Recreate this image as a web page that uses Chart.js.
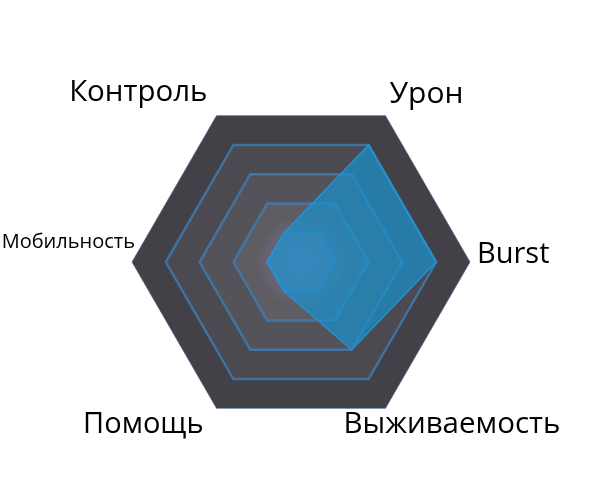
<!DOCTYPE html>
<html>
<head>
<meta charset="utf-8">
<script src="https://cdn.jsdelivr.net/npm/chart.js@4.4.1/dist/chart.umd.min.js"></script>
<style>
  html, body { margin: 0; padding: 0; background: #ffffff; }
  #wrap { width: 595px; height: 480px; }
</style>
</head>
<body>
<div id="wrap"><canvas id="radarChart" width="595" height="480"></canvas></div>
<script>
// === Data ===
var categories = ['Урон', 'Burst', 'Выживаемость', 'Помощь', 'Мобильность', 'Контроль'];
var heroValues = [4, 4, 3, 1, 1, 1];
var scaleSteps = [1, 2, 3, 4, 5];

// band fills from the outer ring inwards
var bandColors = ['#414147', '#4a4a50', '#545359', '#5e5d63', '#68666e'];

// label look: size, alignment and nudge from the axis tip
var labelStyle = [
    { size: 30, align: 'left',  dx: 4,   dy: -13 },
    { size: 29, align: 'left',  dx: 7,   dy: 1 },
    { size: 29.5, align: 'left',  dx: -42, dy: 25 },
    { size: 29, align: 'right', dx: -13, dy: 25 },
    { size: 20, align: 'right', dx: 3,   dy: -14 },
    { size: 29.5, align: 'right', dx: -9,  dy: -15 }
];

function hexPath(ctx, scale, value) {
    var r = scale.getDistanceFromCenterForValue(value);
    ctx.beginPath();
    for (var i = 0; i < categories.length; i++) {
        var p = scale.getPointPosition(i, r);
        if (i === 0) ctx.moveTo(p.x, p.y);
        else ctx.lineTo(p.x, p.y);
    }
    ctx.closePath();
}

// ring backgrounds, drawn before the grid
var bandsPlugin = {
    id: 'bands',
    beforeDraw: function(chart) {
        var scale = chart.scales.r;
        var ctx = chart.ctx;
        ctx.save();
        for (var k = scaleSteps.length - 1; k >= 0; k--) {
            hexPath(ctx, scale, scaleSteps[k]);
            ctx.fillStyle = bandColors[scaleSteps.length - 1 - k];
            ctx.fill();
        }
        // purple glow in the middle
        var cx = scale.xCenter, cy = scale.yCenter;
        var rr = scale.getDistanceFromCenterForValue(1.4);
        var g = ctx.createRadialGradient(cx, cy, 0, cx, cy, rr);
        g.addColorStop(0, 'rgba(130, 115, 155, 0.85)');
        g.addColorStop(1, 'rgba(130, 115, 155, 0)');
        hexPath(ctx, scale, 1.4);
        ctx.fillStyle = g;
        ctx.fill();
        ctx.restore();
    }
};

// axis names
var labelsPlugin = {
    id: 'axisNames',
    afterDraw: function(chart) {
        var scale = chart.scales.r;
        var ctx = chart.ctx;
        ctx.save();
        ctx.fillStyle = '#000000';
        ctx.textBaseline = 'alphabetic';
        categories.forEach(function(name, i) {
            var st = labelStyle[i];
            var p = scale.getPointPosition(i, scale.drawingArea);
            ctx.font = st.size + 'px "Open Sans", "Noto Sans", sans-serif';
            ctx.textAlign = st.align;
            ctx.fillText(name, p.x + st.dx, p.y + st.dy);
        });
        ctx.restore();
    }
};

var ctxRadar = document.getElementById('radarChart').getContext('2d');
new Chart(ctxRadar, {
    type: 'radar',
    data: {
        labels: categories,
        datasets: [{
            data: heroValues,
            backgroundColor: 'rgba(20, 148, 212, 0.66)',
            borderColor: 'rgba(35, 150, 215, 0.85)',
            borderWidth: 1.5,
            pointRadius: 0,
            fill: true
        }]
    },
    options: {
        responsive: false,
        animation: false,
        layout: { padding: { left: 132, right: 125, top: 93, bottom: 49 } },
        plugins: {
            legend: { display: false },
            tooltip: { enabled: false }
        },
        scales: {
            r: {
                startAngle: 30,
                min: 0,
                max: 5,
                ticks: { display: false, stepSize: 1 },
                angleLines: { display: false },
                pointLabels: { display: false },
                grid: {
                    circular: false,
                    color: function(c) {
                        return c.index === scaleSteps.length ? 'rgba(60, 100, 135, 0.6)' : 'rgba(62, 125, 180, 0.8)';
                    },
                    lineWidth: function(c) {
                        return c.index === scaleSteps.length ? 1 : 2.5;
                    }
                }
            }
        }
    },
    plugins: [bandsPlugin, labelsPlugin]
});
</script>
</body>
</html>
